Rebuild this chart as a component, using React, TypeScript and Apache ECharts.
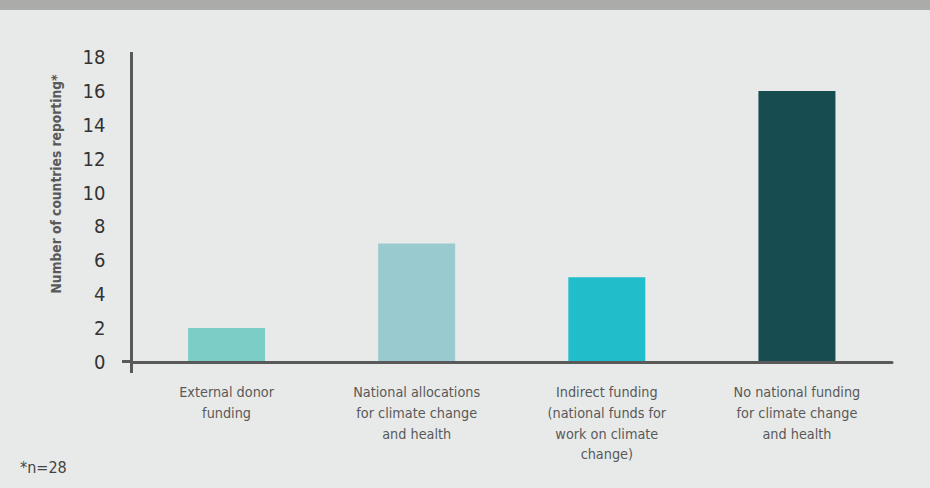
import React, { useEffect, useRef } from "react";
import * as echarts from "echarts";

const categories = [
  "External donor\nfunding",
  "National allocations\nfor climate change\nand health",
  "Indirect funding\n(national funds for\nwork on climate\nchange)",
  "No national funding\nfor climate change\nand health",
];
const values = [2, 7, 5, 16];
const barColors = ["#7ccdc6", "#98cacf", "#21bdcb", "#174c50"];
const yAxisName = "Number of countries reporting*";
const footnote = "*n=28";

const FONT = "'Liberation Sans Narrow', 'DejaVu Sans Condensed', 'Roboto', sans-serif";
const AXIS_COLOR = "#595959";

export default function App() {
  const ref = useRef<HTMLDivElement>(null);
  useEffect(() => {
    if (!ref.current) return;
    const chart = echarts.init(ref.current, undefined, { renderer: "svg" });
    const gridLeft = 131.5;
    const gridTop = 57;
    const gridBottomY = 362;
    chart.setOption({
      animation: false,
      backgroundColor: "#e8eae9",
      grid: { left: gridLeft, right: 930 - 892, top: gridTop, bottom: 488 - gridBottomY, containLabel: false },
      xAxis: {
        type: "category",
        data: categories,
        z: 5,
        axisTick: { show: false },
        axisLine: { lineStyle: { color: AXIS_COLOR, width: 3 } },
        axisLabel: {
          interval: 0,
          margin: 20,
          fontFamily: FONT,
          fontSize: 14.3,
          lineHeight: 20.6,
          color: AXIS_COLOR,
          align: "center",
        },
      },
      yAxis: {
        type: "value",
        min: 0,
        max: 18,
        interval: 2,
        z: 5,
        splitLine: { show: false },
        axisTick: { show: false },
        axisLine: { show: true, lineStyle: { color: AXIS_COLOR, width: 3 } },
        axisLabel: { margin: 26, fontFamily: FONT, fontSize: 20, color: "#333333" },
      },
      series: [
        {
          type: "bar",
          barWidth: 77,
          data: values.map((v, i) => ({ value: v, itemStyle: { color: barColors[i] } })),
        },
      ],
      graphic: [
        { type: "rect", shape: { x: 0, y: 0, width: 930, height: 10 }, style: { fill: "#abacaa" } },
        {
          type: "line",
          shape: { x1: gridLeft, y1: 52, x2: gridLeft, y2: gridTop },
          style: { stroke: AXIS_COLOR, lineWidth: 3 },
        },
        {
          type: "line",
          shape: { x1: gridLeft, y1: gridBottomY, x2: gridLeft, y2: 373 },
          style: { stroke: AXIS_COLOR, lineWidth: 3 },
        },
        {
          type: "line",
          shape: { x1: 122, y1: gridBottomY - 0.5, x2: gridLeft, y2: gridBottomY - 0.5 },
          style: { stroke: AXIS_COLOR, lineWidth: 3 },
        },
        {
          type: "text",
          x: 56,
          y: 184,
          rotation: Math.PI / 2,
          style: {
            text: yAxisName,
            align: "center",
            verticalAlign: "middle",
            fontFamily: FONT,
            fontWeight: "bold",
            fontSize: 13.7,
            fill: AXIS_COLOR,
          },
        },
        {
          type: "text",
          x: 20,
          y: 467,
          style: {
            text: footnote,
            align: "left",
            verticalAlign: "middle",
            fontFamily: FONT,
            fontSize: 16,
            fill: "#444444",
          },
        },
      ],
    });
    return () => chart.dispose();
  }, []);
  return (
    <div
      ref={ref}
      style={{ position: "absolute", left: 0, top: 0, width: 930, height: 488 }}
    />
  );
}
